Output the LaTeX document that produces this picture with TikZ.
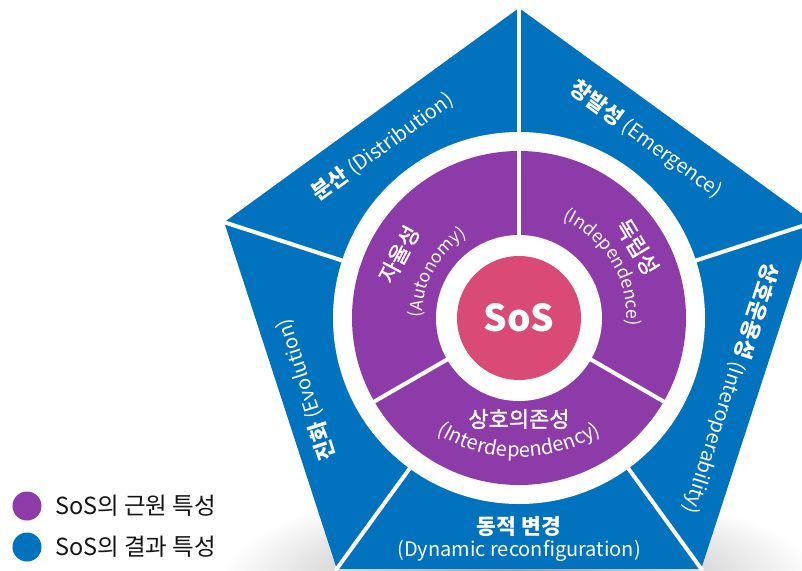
\documentclass[tikz,border=0pt]{standalone}
\usepackage{fontspec}
\setmainfont{Noto Sans CJK KR}
\newfontfamily\krfont{Noto Sans CJK KR}
\newfontfamily\krmed{Noto Sans CJK KR}[FakeBold=1.4]
\usetikzlibrary{decorations.text}
\definecolor{sosblue}{RGB}{0,114,190}
\definecolor{sospurple}{RGB}{142,59,170}
\definecolor{sospink}{RGB}{217,74,117}
\definecolor{legtext}{RGB}{20,20,20}
\tikzset{
  bluelab/.style={text=white, inner sep=0pt, font=\krfont\fontsize{20}{20}\selectfont},
  purplekr/.style={text=white, inner sep=0pt, font=\krmed\fontsize{22}{22}\selectfont},
  divider/.style={white, line width=4pt},
  legdot/.style={circle, inner sep=0pt, minimum size=29pt},
  legtxt/.style={anchor=west, inner sep=0pt, text=legtext, font=\krfont\fontsize{23.5}{23.5}\selectfont},
}
\newcommand{\kb}[1]{{\fontsize{21.5}{21.5}\selectfont\bfseries #1}}
\begin{document}
\begin{tikzpicture}[x=1pt,y=1pt]
\useasboundingbox (-519,-252) rectangle (283,318);
\fill[white] (-519,-252) rectangle (283,318);
\begin{scope}
\clip (-519,-252) rectangle (283,318);
% shadow
\shade[inner color=black!38, outer color=white] (0,-262) ellipse (300 and 95);
% pentagon
\fill[sosblue] (90:310) -- (162:310) -- (234:310) -- (306:310) -- (18:310) -- cycle;
\fill[white] (0,0) circle (186);
\foreach \a in {90,162,234,306,18} {
  \draw[divider] (\a:180) -- (\a:312);
}
% purple ring
\fill[sospurple] (0,0) circle (167);
\fill[white] (0,0) circle (83);
\foreach \a in {90,210,330} {
  \draw[divider] (\a:80) -- (\a:170);
}
\end{scope}
\node[circle, fill=sospink, minimum size=124pt, inner sep=0pt,
      text=white, font=\krfont\bfseries\fontsize{37}{37}\selectfont] (sos) at (0,0) {SoS};

% blue labels
\node[bluelab, rotate=36] (dist) at (128.5:219) {\kb{분산} (Distribution)};
\node[bluelab, rotate=-36] (emer) at (54.5:219) {\kb{창발성} (Emergence)};
\node[bluelab, rotate=-108] (inter) at (-18.4:223) {\kb{상호운용성} (Interoperability)};
\node[bluelab, rotate=108] (evol) at (198.6:225) {\kb{진화} (Evolution)};
\node[bluelab] (dyn1) at (0,-208) {\kb{동적 변경}};
\node[bluelab] (dyn2) at (0,-233) {(Dynamic reconfiguration)};

% purple labels
\node[purplekr, rotate=62] (auto) at (152:136) {자율성};
\node[purplekr, rotate=-59] (indep) at (31:138) {독립성};
\node[purplekr] (interd) at (0,-101) {상호의존성};
\path[decorate, decoration={text along path, text align=center, text color=white,
   text={|\krfont\fontsize{17.5}{17.5}\selectfont|(Autonomy)}}] (196:97) arc (196:106:97);
\path[decorate, decoration={text along path, text align=center, text color=white,
   text={|\krfont\fontsize{18}{18}\selectfont|(Independence)}}] (86:108) arc (86:-24:108);
\path[decorate, decoration={text along path, text align=center, text color=white,
   text={|\krfont\fontsize{20}{20}\selectfont|(Interdependency)}}] ([shift={(0,18)}]234:157) arc (234:306:157);

% legend
\node[legdot, fill=sospurple] (lp) at (-492,-188) {};
\node[legtxt] (lpt) at (-464,-188) {SoS의 근원 특성};
\node[legdot, fill=sosblue] (lb) at (-492,-229) {};
\node[legtxt] (lbt) at (-464,-229) {SoS의 결과 특성};
\end{tikzpicture}
\end{document}
